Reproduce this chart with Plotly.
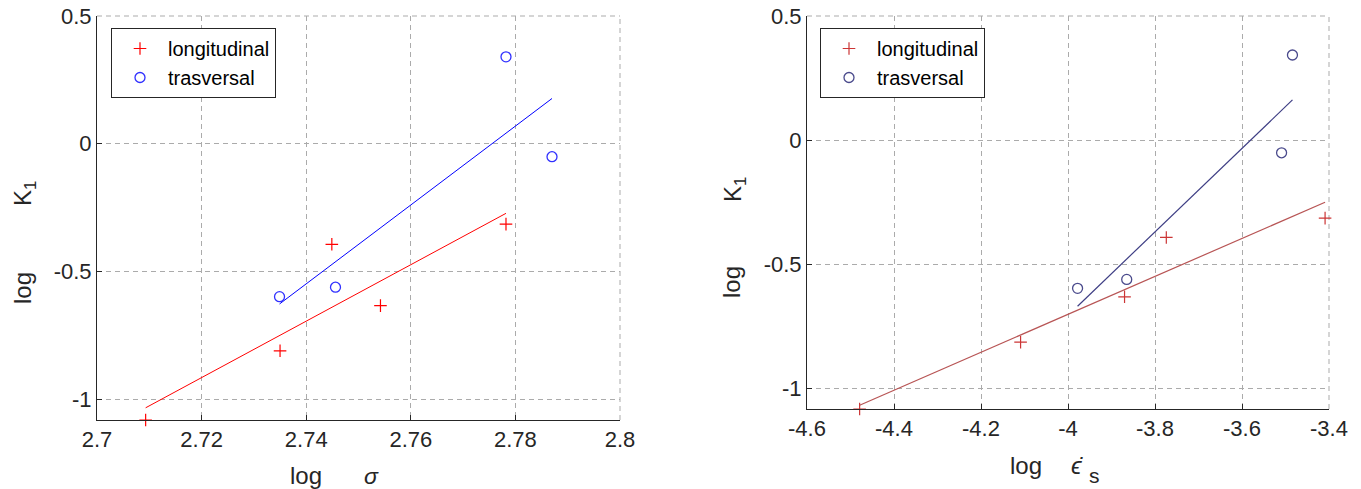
import numpy as np
import plotly.graph_objects as go

# ---------------- data ----------------
# left panel: log K1 vs log sigma
sig_long_x = [2.7093, 2.7350, 2.7449, 2.7542, 2.7782]
sig_long_y = [-1.082, -0.811, -0.394, -0.634, -0.315]
sig_tras_x = [2.7349, 2.7456, 2.7782, 2.7870]
sig_tras_y = [-0.599, -0.562, 0.340, -0.051]

# right panel: log K1 vs log strain rate
eps_long_x = [-4.479, -4.109, -3.870, -3.774, -3.409]
eps_long_y = [-1.083, -0.814, -0.631, -0.392, -0.314]
eps_tras_x = [-3.978, -3.865, -3.509, -3.484]
eps_tras_y = [-0.597, -0.561, -0.051, 0.343]

left_xticks = [2.7, 2.72, 2.74, 2.76, 2.78, 2.8]
left_xtext = ["2.7", "2.72", "2.74", "2.76", "2.78", "2.8"]
right_xticks = [-4.6, -4.4, -4.2, -4.0, -3.8, -3.6, -3.4]
right_xtext = ["-4.6", "-4.4", "-4.2", "-4", "-3.8", "-3.6", "-3.4"]
yticks = [-1.0, -0.5, 0.0, 0.5]
ytext = ["-1", "-0.5", "0", "0.5"]

series_names = ["longitudinal", "trasversal"]

W, H = 1361, 489
FONT = "Liberation Sans, Arial, sans-serif"
GRIDC = "#ababab"
DASH = "5px,4px"


def fit(x, y):
    a, b = np.polyfit(x, y, 1)
    xs = np.array([min(x), max(x)])
    return xs, a * xs + b


fig = go.Figure()

# ---- left panel ----
lc_red, lc_blue = "#ff0000", "#0000ff"
fx, fy = fit(sig_long_x, sig_long_y)
fig.add_trace(go.Scatter(x=fx, y=fy, mode="lines", line=dict(color=lc_red, width=1),
                         showlegend=False, xaxis="x", yaxis="y", hoverinfo="skip"))
fx, fy = fit(sig_tras_x, sig_tras_y)
fig.add_trace(go.Scatter(x=fx, y=fy, mode="lines", line=dict(color=lc_blue, width=1),
                         showlegend=False, xaxis="x", yaxis="y", hoverinfo="skip"))
fig.add_trace(go.Scatter(x=sig_long_x, y=sig_long_y, mode="markers", name=series_names[0],
                         marker=dict(symbol="cross-thin-open", size=9, color=lc_red, line=dict(width=1.2)),
                         cliponaxis=False, xaxis="x", yaxis="y", legend="legend"))
fig.add_trace(go.Scatter(x=sig_tras_x, y=sig_tras_y, mode="markers", name=series_names[1],
                         marker=dict(symbol="circle-open", size=10, color="#3030ff", line=dict(width=1.3)),
                         cliponaxis=False, xaxis="x", yaxis="y", legend="legend"))

# ---- right panel ----
rc_red_m, rc_red_l = "#cc3535", "#b85555"
rc_blue_m, rc_blue_l = "#4a4a8c", "#3e3e84"
fx, fy = fit(eps_long_x, eps_long_y)
fig.add_trace(go.Scatter(x=fx, y=fy, mode="lines", line=dict(color=rc_red_l, width=1.2),
                         showlegend=False, xaxis="x2", yaxis="y2", hoverinfo="skip"))
fx, fy = fit(eps_tras_x, eps_tras_y)
fig.add_trace(go.Scatter(x=fx, y=fy, mode="lines", line=dict(color=rc_blue_l, width=1.2),
                         showlegend=False, xaxis="x2", yaxis="y2", hoverinfo="skip"))
fig.add_trace(go.Scatter(x=eps_long_x, y=eps_long_y, mode="markers", name=series_names[0],
                         marker=dict(symbol="cross-thin-open", size=9, color=rc_red_m, line=dict(width=1.2)),
                         cliponaxis=False, xaxis="x2", yaxis="y2", legend="legend2"))
fig.add_trace(go.Scatter(x=eps_tras_x, y=eps_tras_y, mode="markers", name=series_names[1],
                         marker=dict(symbol="circle-open", size=10, color=rc_blue_m, line=dict(width=1.3)),
                         cliponaxis=False, xaxis="x2", yaxis="y2", legend="legend2"))

grid = dict(showgrid=True, gridcolor=GRIDC, gridwidth=1, griddash=DASH,
            showline=True, linecolor="#262626", linewidth=1, mirror=False,
            ticks="inside", ticklen=5, tickcolor="#262626", zeroline=False, automargin=False,
            tickfont=dict(family=FONT, size=22, color="#262626"), tickmode="array")

legend_common = dict(xanchor="left", yanchor="top", bordercolor="#262626", borderwidth=1,
                     bgcolor="white", itemwidth=46, tracegroupgap=0,
                     font=dict(family=FONT, size=20, color="black"))

fig.update_layout(
    template="none",
    width=W, height=H,
    margin=dict(l=0, r=0, t=0, b=0, autoexpand=False),
    paper_bgcolor="white", plot_bgcolor="white",
    showlegend=True,
    xaxis=dict(domain=[97 / W, 620 / W], range=[2.7, 2.8], tickvals=left_xticks, ticktext=left_xtext,
               anchor="y", **grid),
    yaxis=dict(domain=[1 - 420 / H, 1 - 16 / H], range=[-1.082, 0.5], tickvals=yticks, ticktext=ytext,
               anchor="x", **grid),
    xaxis2=dict(domain=[807 / W, 1329 / W], range=[-4.6, -3.4], tickvals=right_xticks, ticktext=right_xtext,
                anchor="y2", **grid),
    yaxis2=dict(domain=[1 - 409 / H, 1 - 16 / H], range=[-1.083, 0.5], tickvals=yticks, ticktext=ytext,
                anchor="x2", **grid),
    legend=dict(x=111 / W, y=1 - 28 / H, **legend_common),
    legend2=dict(x=820 / W, y=1 - 28 / H, **legend_common),
)

# dashed top / right frame edges (MATLAB grid at the box limits)
for xr, yr in (("x", "y"), ("x2", "y2")):
    fig.add_shape(type="line", xref=f"{xr} domain", yref=f"{yr} domain", x0=0, x1=1, y0=1, y1=1,
                  line=dict(color=GRIDC, width=1, dash=DASH), layer="below")
    fig.add_shape(type="line", xref=f"{xr} domain", yref=f"{yr} domain", x0=1, x1=1, y0=0, y1=1,
                  line=dict(color=GRIDC, width=1, dash=DASH), layer="below")

TF = dict(family=FONT, size=24, color="#262626")


def ann(text, px, py, angle=0, size=24):
    f = dict(TF)
    f["size"] = size
    fig.add_annotation(text=text, x=px / W, y=1 - py / H, xref="paper", yref="paper",
                       showarrow=False, textangle=angle, xanchor="center", yanchor="middle", font=f)


# axis titles
ann("log", 306, 475)
ann("<i>σ</i>", 371, 476, size=23)
ann("log", 22, 288, angle=-90)
ann("K<sub>1</sub>", 24, 194, angle=-90)

ann("log", 1026, 465)
ann("<i>ϵ̇</i>", 1077, 465, size=24)
ann("s", 1094, 475, size=21)
ann("log", 731, 282, angle=-90)
ann("K<sub>1</sub>", 734, 190, angle=-90)

fig.write_html("out.html")
